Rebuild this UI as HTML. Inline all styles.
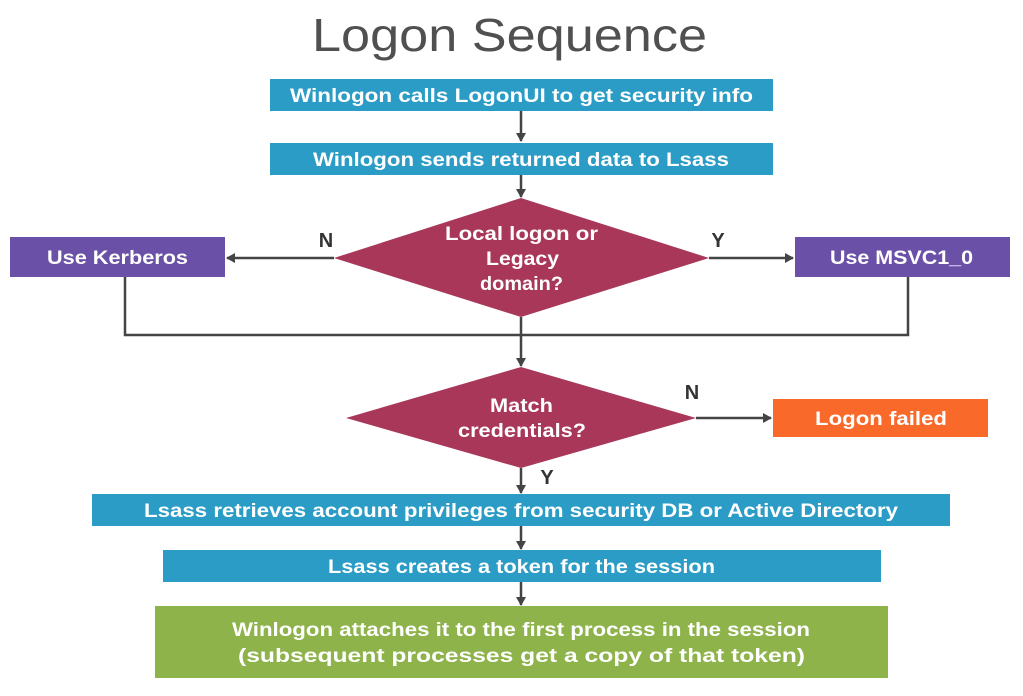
<!DOCTYPE html>
<html><head><meta charset="utf-8"><style>
body{margin:0;width:1023px;height:691px;background:#fff;overflow:hidden;font-family:"Liberation Sans",sans-serif}
</style></head><body>
<svg width="1023" height="691" viewBox="0 0 1023 691" xmlns="http://www.w3.org/2000/svg" font-family="Liberation Sans, sans-serif">
<defs><marker id="a" markerWidth="10" markerHeight="10" refX="8" refY="5" orient="auto" markerUnits="userSpaceOnUse"><path d="M0,0 L9,5 L0,10 Z" fill="#444"/></marker></defs>
<text x="312" y="51" font-size="46" fill="#505050" textLength="395" lengthAdjust="spacingAndGlyphs">Logon Sequence</text>
<g stroke="#444" stroke-width="2.5" fill="none">
<line x1="521" y1="111" x2="521" y2="141" marker-end="url(#a)"/>
<line x1="521" y1="175" x2="521" y2="197" marker-end="url(#a)"/>
<line x1="334" y1="258" x2="227" y2="258" marker-end="url(#a)"/>
<line x1="709" y1="258" x2="793" y2="258" marker-end="url(#a)"/>
<polyline points="125,277 125,335 908,335 908,277"/>
<line x1="521" y1="317" x2="521" y2="366" marker-end="url(#a)"/>
<line x1="696" y1="418" x2="771" y2="418" marker-end="url(#a)"/>
<line x1="521" y1="468" x2="521" y2="493" marker-end="url(#a)"/>
<line x1="521" y1="526" x2="521" y2="549" marker-end="url(#a)"/>
<line x1="521" y1="582" x2="521" y2="605" marker-end="url(#a)"/>
</g>
<rect x="270" y="79" width="503" height="32" fill="#2b9cc5"/>
<rect x="270" y="143" width="503" height="32" fill="#2b9cc5"/>
<polygon points="521,198 709,258 521,317 334,258" fill="#a8375a"/>
<rect x="10" y="237" width="215" height="40" fill="#6a50a7"/>
<rect x="795" y="237" width="215" height="40" fill="#6a50a7"/>
<polygon points="521,367 696,418 521,468 346,418" fill="#a8375a"/>
<rect x="773" y="399" width="215" height="38" fill="#f9692a"/>
<rect x="92" y="494" width="858" height="32" fill="#2b9cc5"/>
<rect x="163" y="550" width="718" height="32" fill="#2b9cc5"/>
<rect x="155" y="606" width="733" height="72" fill="#8db34a"/>
<g fill="#fff" font-weight="bold" font-size="19">
<text x="290" y="102" textLength="463" lengthAdjust="spacingAndGlyphs">Winlogon calls LogonUI to get security info</text>
<text x="313" y="166" textLength="416" lengthAdjust="spacingAndGlyphs">Winlogon sends returned data to Lsass</text>
<text x="445" y="240" textLength="153" lengthAdjust="spacingAndGlyphs">Local logon or</text>
<text x="486" y="265" textLength="73" lengthAdjust="spacingAndGlyphs">Legacy</text>
<text x="480" y="290" textLength="83" lengthAdjust="spacingAndGlyphs">domain?</text>
<text x="47" y="264" textLength="141" lengthAdjust="spacingAndGlyphs">Use Kerberos</text>
<text x="830" y="264" textLength="143" lengthAdjust="spacingAndGlyphs">Use MSVC1_0</text>
<text x="490" y="412" textLength="63" lengthAdjust="spacingAndGlyphs">Match</text>
<text x="458" y="437" textLength="128" lengthAdjust="spacingAndGlyphs">credentials?</text>
<text x="815" y="425" textLength="132" lengthAdjust="spacingAndGlyphs">Logon failed</text>
<text x="144" y="517" textLength="754" lengthAdjust="spacingAndGlyphs">Lsass retrieves account privileges from security DB or Active Directory</text>
<text x="328" y="573" textLength="387" lengthAdjust="spacingAndGlyphs">Lsass creates a token for the session</text>
<text x="232" y="636" textLength="578" lengthAdjust="spacingAndGlyphs">Winlogon attaches it to the first process in the session</text>
<text x="238" y="662" textLength="567" lengthAdjust="spacingAndGlyphs">(subsequent processes get a copy of that token)</text>
</g>
<g fill="#333" font-weight="bold" font-size="20" text-anchor="middle">
<text x="326" y="247">N</text>
<text x="718" y="247">Y</text>
<text x="692" y="399">N</text>
<text x="547" y="484">Y</text>
</g>
</svg>
</body></html>
